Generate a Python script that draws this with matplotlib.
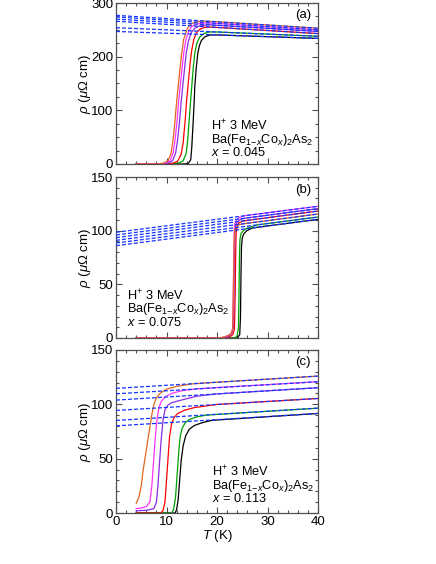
import matplotlib
matplotlib.use("Agg")
import matplotlib.pyplot as plt
from matplotlib.ticker import MultipleLocator

plt.rcParams['font.family'] = ['Liberation Sans', 'DejaVu Sans']
plt.rcParams['mathtext.fontset'] = 'custom'
plt.rcParams['mathtext.rm'] = 'Liberation Sans'
plt.rcParams['mathtext.it'] = 'Liberation Sans:italic'
plt.rcParams['mathtext.bf'] = 'Liberation Sans:bold'

# ---------------- data ----------------
curve_names = ["black", "green", "red", "purple", "magenta", "orange"]
colors = ["#000000", "#00a000", "#ff0000", "#8a2be2", "#ff33ff", "#e0661e"]

# normal-state (dashed) lines: value at T=0 and T=40
dash_T = [0, 40]
a_dash_start = [247, 254, 266, 270, 274, 277]
a_dash_end = [234, 238, 243, 247, 250, 253]
b_dash_start = [86, 88.5, 93.5, 96, 98.5, 91]
b_dash_end = [110.5, 112.7, 118.3, 120.5, 122.7, 115.5]
c_dash_start = [80.2, 85.2, 94.4, 103.9, 109.7, 114.7]
c_dash_end = [91.6, 96.5, 105.4, 115.3, 120.8, 126.0]

# panel (a): x = 0.045
a_T = {
    "black":   [4, 13.5, 14.3, 14.8, 15.0, 15.3, 15.5, 15.6, 15.9, 16.2, 16.5, 16.9, 17.6, 18.6, 20, 40],
    "green":   [4, 11.5, 12.5, 13.3, 13.9, 14.2, 14.5, 14.8, 15.0, 15.3, 15.6, 16.0, 16.6, 17.4, 18.5, 20, 40],
    "red":     [4, 10.5, 11.4, 12.2, 12.9, 13.3, 13.7, 14.0, 14.3, 14.7, 15.0, 15.4, 15.9, 16.6, 17.5, 19, 40],
    "purple":  [4, 9.5, 10.4, 11.2, 11.8, 12.2, 12.6, 12.9, 13.2, 13.6, 13.9, 14.3, 14.9, 15.6, 16.6, 18.5, 20, 40],
    "magenta": [4, 9.0, 9.9, 10.7, 11.3, 11.7, 12.1, 12.4, 12.7, 13.1, 13.4, 13.8, 14.4, 15.0, 16, 18, 20, 40],
    "orange":  [4, 8.5, 9.5, 10.3, 10.9, 11.3, 11.7, 12.0, 12.3, 12.7, 13.0, 13.4, 14.0, 14.6, 15.5, 17, 20, 40],
}
a_rho = {
    "black":   [0, 0, 1, 8, 30, 82, 120, 144, 180, 206, 220, 230, 237, 240.5, 240.5, 234],
    "green":   [0, 0, 2, 6, 20, 45, 82, 120, 144, 180, 206, 225, 237, 243, 246, 246, 238],
    "red":     [0, 0, 2, 5, 18, 40, 82, 120, 150, 190, 212, 232, 244, 251, 254.5, 255.1, 243],
    "purple":  [0, 0, 2, 6, 20, 45, 82, 115, 144, 180, 206, 228, 245, 253, 257.5, 259.4, 258.5, 247],
    "magenta": [0, 0, 2, 6, 20, 45, 82, 115, 144, 180, 206, 230, 248, 256, 261, 263, 262, 250],
    "orange":  [0, 0, 2, 6, 20, 45, 82, 115, 144, 180, 206, 232, 250, 259, 264, 266.5, 265, 253],
}

# panel (b): x = 0.075
b_T = {
    "black":   [4, 24.0, 24.5, 24.65, 24.75, 24.85, 25.0, 25.3, 25.9, 27, 29, 40],
    "green":   [4, 23.5, 24.0, 24.25, 24.35, 24.45, 24.55, 24.75, 25.2, 26, 28, 40],
    "red":     [4, 21.5, 22.5, 23.1, 23.45, 23.6, 23.7, 23.8, 24.0, 24.4, 25.2, 27, 40],
    "purple":  [4, 21.0, 22.0, 22.6, 23.0, 23.25, 23.35, 23.45, 23.55, 23.7, 24.0, 24.6, 26, 40],
    "magenta": [4, 20.5, 21.5, 22.3, 22.8, 23.1, 23.2, 23.3, 23.4, 23.5, 23.8, 24.3, 25.5, 40],
    "orange":  [4, 20.5, 21.5, 22.3, 22.8, 23.1, 23.2, 23.3, 23.4, 23.5, 23.7, 24.1, 25, 27, 40],
}
b_rho = {
    "black":   [0, 0, 3, 20, 60, 85, 93, 97, 100, 102.5, 103.8, 110.5],
    "green":   [0, 0, 2, 10, 40, 75, 92, 97, 100, 102.5, 105.4, 112.7],
    "red":     [0, 0, 1, 3, 8, 40, 80, 98, 104, 107.5, 109, 110.2, 118.3],
    "purple":  [0, 0, 1, 2.5, 5, 10, 40, 75, 98, 104, 108, 110.5, 111.9, 120.5],
    "magenta": [0, 0, 1, 2.5, 4.5, 9, 35, 70, 98, 106, 109.5, 112, 114, 122.7],
    "orange":  [0, 0, 1, 2.5, 4, 8, 30, 60, 90, 100, 103, 105, 106.3, 107.5, 115.5],
}

# panel (c): x = 0.113
c_T = {
    "black":   [4, 11.7, 12.0, 12.3, 12.6, 12.9, 13.3, 13.8, 14.5, 15.5, 17, 19, 40],
    "green":   [4, 11.0, 11.4, 11.8, 12.1, 12.4, 12.7, 13.1, 13.7, 14.5, 16, 18, 40],
    "red":     [4, 8.8, 9.3, 9.7, 10.0, 10.3, 10.6, 11.0, 11.5, 12.2, 13.5, 15.5, 20, 40],
    "purple":  [4, 6, 7.5, 8.0, 8.3, 8.6, 8.9, 9.3, 9.7, 10.2, 11, 13, 16, 20, 40],
    "magenta": [4, 5, 6, 6.7, 7.1, 7.4, 7.7, 8.1, 8.5, 9.0, 9.8, 11, 13, 16, 20, 40],
    "orange":  [4, 4.5, 5.0, 5.4, 5.9, 6.4, 7.0, 7.5, 8.0, 8.7, 10, 12, 15, 20, 40],
}
c_rho = {
    "black":   [0, 0, 3, 12, 30, 48, 62, 71, 77, 80.5, 83, 85.3, 91.6],
    "green":   [0, 0, 3, 15, 35, 55, 70, 78, 83, 86, 88.5, 90.1, 96.5],
    "red":     [0, 0, 2, 10, 30, 50, 70, 82, 88, 91.5, 94.5, 97, 99.9, 105.4],
    "purple":  [2, 2.5, 4, 10, 25, 45, 65, 85, 95, 99, 101.5, 104, 107.5, 109.6, 115.3],
    "magenta": [4, 4.5, 6, 10, 25, 45, 65, 85, 97, 103, 107, 110, 112.5, 114.3, 115.5, 120.8],
    "orange":  [9, 14, 25, 40, 55, 70, 88, 100, 106, 110, 114, 116.5, 118.8, 120.3, 126.0],
}

panels = [
    dict(T=a_T, rho=a_rho, ds=a_dash_start, de=a_dash_end, ylim=300, ymaj=100, ymin=25,
         lbl="(a)", xval="0.045", tx=0.47, ty=0.048),
    dict(T=b_T, rho=b_rho, ds=b_dash_start, de=b_dash_end, ylim=150, ymaj=50, ymin=10,
         lbl="(b)", xval="0.075", tx=0.053, ty=0.074),
    dict(T=c_T, rho=c_rho, ds=c_dash_start, de=c_dash_end, ylim=150, ymaj=50, ymin=10,
         lbl="(c)", xval="0.113", tx=0.474, ty=0.066),
]

# ---------------- figure ----------------
fig = plt.figure(figsize=(4.36, 5.64), dpi=100)
left, width = 116 / 436, 202 / 436
tops = [3, 177, 350]
bots = [164, 338, 513]
spine_col = "#505050"
fs = 9.5
fs_note = 9.2

axes = []
for i, p in enumerate(panels):
    b = 1 - bots[i] / 564
    h = (bots[i] - tops[i]) / 564
    ax = fig.add_axes([left, b, width, h])
    axes.append(ax)
    for name, col in zip(curve_names, colors):
        ax.plot(p["T"][name], p["rho"][name], color=col, lw=0.9, zorder=2)
    for k in range(len(curve_names)):
        ax.plot(dash_T, [p["ds"][k], p["de"][k]], color="#1535ff", lw=0.9,
                dashes=(3.2, 1.6), zorder=3)
    ax.set_xlim(0, 40)
    ax.set_ylim(0, p["ylim"])
    ax.xaxis.set_major_locator(MultipleLocator(10))
    ax.xaxis.set_minor_locator(MultipleLocator(2))
    ax.yaxis.set_major_locator(MultipleLocator(p["ymaj"]))
    ax.yaxis.set_minor_locator(MultipleLocator(p["ymin"]))
    ax.tick_params(which="both", direction="in", top=True, right=True,
                   color=spine_col, width=0.8, labelsize=fs, pad=2)
    ax.tick_params(which="major", length=4)
    ax.tick_params(which="minor", length=2.2)
    for s in ax.spines.values():
        s.set_color(spine_col)
        s.set_linewidth(0.9)
    if i < 2:
        ax.tick_params(labelbottom=False)
    ax.set_ylabel(r"$\rho$ ($\mu\Omega$ cm)", fontsize=fs)
    ax.yaxis.set_label_coords(-0.112, 0.5)
    ax.text(0.965, 0.965 if i != 1 else 0.955, p["lbl"], transform=ax.transAxes,
            ha="right", va="top", fontsize=fs)
    note = ("H$^{+}$ 3 MeV\n"
            "Ba(Fe$_{1\\mathrm{-}x}$Co$_{x}$)$_2$As$_2$\n"
            "$x$ = " + p["xval"])
    ax.text(p["tx"], p["ty"], note, transform=ax.transAxes, ha="left",
            va="baseline", multialignment="left", linespacing=0.86,
            fontsize=fs_note)

axes[2].set_xlabel(r"$T$ (K)", fontsize=fs, labelpad=0)

fig.savefig("out.png", dpi=100)
